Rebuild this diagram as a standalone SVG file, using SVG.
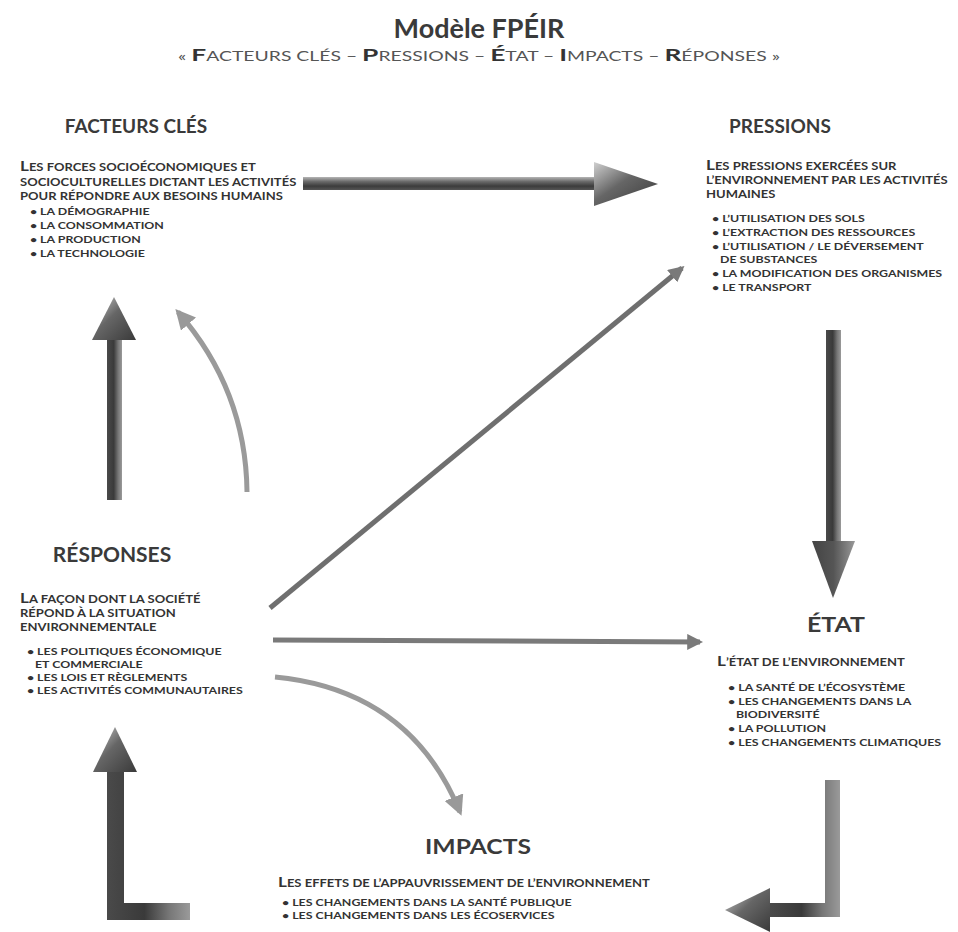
<svg xmlns="http://www.w3.org/2000/svg" width="958" height="932" viewBox="0 0 958 932">
<defs>
<style>
text{font-family:Lato,"Open Sans","Liberation Sans",sans-serif;fill:#333;font-weight:bold}
.t{font-size:27px;fill:#3a3a3a}
.sub{font-size:12.5px;font-weight:normal;fill:#555}
.subc{font-size:17px;font-weight:bold;fill:#333}
.h{font-size:19px;fill:#3a3a3a}
.h2{font-size:21px;fill:#3a3a3a}
.d{font-size:10.5px}
.dc{font-size:13.8px}
.b{font-size:10px}
.thin{fill:none;stroke-linecap:butt}
</style>
<linearGradient id="gh" x1="0" y1="0" x2="0" y2="1">
<stop offset="0" stop-color="#b5b5b5"/><stop offset="0.35" stop-color="#6a6a6a"/><stop offset="0.7" stop-color="#3c3c3c"/><stop offset="1" stop-color="#555"/>
</linearGradient>
<linearGradient id="gv" x1="0" y1="0" x2="1" y2="0">
<stop offset="0" stop-color="#4a4a4a"/><stop offset="0.45" stop-color="#3a3a3a"/><stop offset="0.75" stop-color="#777"/><stop offset="1" stop-color="#9a9a9a"/>
</linearGradient>
<linearGradient id="ghead" x1="0" y1="0" x2="1" y2="1">
<stop offset="0" stop-color="#d0d0d0"/><stop offset="0.45" stop-color="#666"/><stop offset="1" stop-color="#3a3a3a"/>
</linearGradient>
<linearGradient id="gheadv" x1="0" y1="0" x2="1" y2="0">
<stop offset="0" stop-color="#444"/><stop offset="0.5" stop-color="#555"/><stop offset="1" stop-color="#999"/>
</linearGradient>
<marker id="ma" viewBox="0 0 10 10" refX="8" refY="5" markerWidth="4" markerHeight="4" orient="auto" markerUnits="strokeWidth">
<path d="M0,0 L10,5 L0,10 z" fill="#999"/>
</marker>
<marker id="mb" viewBox="0 0 10 10" refX="8" refY="5" markerWidth="3.2" markerHeight="3.2" orient="auto" markerUnits="strokeWidth">
<path d="M0,0 L10,5 L0,10 z" fill="#7a7a7a"/>
</marker>
</defs>
<rect width="958" height="932" fill="#fff"/>

<g id="title">
<text class="t" x="479" y="38" text-anchor="middle">Modèle FPÉIR</text>
<text class="sub" x="178" y="61" textLength="602" lengthAdjust="spacingAndGlyphs">« <tspan class="subc">F</tspan>ACTEURS CLÉS  – <tspan class="subc">P</tspan>RESSIONS – <tspan class="subc">É</tspan>TAT – <tspan class="subc">I</tspan>MPACTS – <tspan class="subc">R</tspan>ÉPONSES »</text>
</g>

<g id="connectors">
<rect x="303" y="177" width="295" height="13" fill="url(#gh)"/>
<path d="M594,162 L658,184 L594,206 z" fill="url(#ghead)"/>
<rect x="826" y="330" width="15" height="212" fill="url(#gv)"/>
<path d="M812,541 L855,541 L833,598 z" fill="url(#gheadv)"/>
<rect x="107" y="335" width="15" height="165" fill="url(#gv)"/>
<path d="M114,297 L136,340 L92,340 z" fill="url(#ghead)"/>
<path d="M107,770 L124,770 L124,903 L190,903 L190,920 L107,920 z" fill="url(#gv)"/>
<path d="M115,727 L137,772 L93,772 z" fill="url(#ghead)"/>
<path d="M825,780 L840,780 L840,917 L770,917 L770,903 L825,903 z" fill="url(#gv)"/>
<path d="M770,888 L770,932 L725,910 z" fill="url(#ghead)"/>
<path class="thin" d="M247,492 Q246,390 178,312" stroke="#9a9a9a" stroke-width="5" marker-end="url(#ma)"/>
<path class="thin" d="M270,608 L682,268" stroke="#6f6f6f" stroke-width="5" marker-end="url(#mb)"/>
<path class="thin" d="M273,640 L700,642" stroke="#7a7a7a" stroke-width="5" marker-end="url(#mb)"/>
<path class="thin" d="M275,677 Q410,690 460,812" stroke="#9a9a9a" stroke-width="5" marker-end="url(#ma)"/>
</g>

<g id="facteurs">
<text class="h" x="136" y="133" text-anchor="middle">FACTEURS CLÉS</text>
<g transform="translate(20,0) scale(1.24,1)">
<text class="d" x="0" y="171"><tspan class="dc">L</tspan>ES FORCES SOCIOÉCONOMIQUES ET</text>
<text class="d" x="0" y="186">SOCIOCULTURELLES DICTANT LES ACTIVITÉS</text>
<text class="d" x="0" y="200">POUR RÉPONDRE AUX BESOINS HUMAINS</text>
<text class="b" x="8" y="215">• LA DÉMOGRAPHIE</text>
<text class="b" x="8" y="229">• LA CONSOMMATION</text>
<text class="b" x="8" y="243">• LA PRODUCTION</text>
<text class="b" x="8" y="257">• LA TECHNOLOGIE</text>
</g>
</g>

<g id="pressions">
<text class="h" x="780" y="133" text-anchor="middle">PRESSIONS</text>
<g transform="translate(706,0) scale(1.24,1)">
<text class="d" x="0" y="170"><tspan class="dc">L</tspan>ES PRESSIONS EXERCÉES SUR</text>
<text class="d" x="0" y="184">L’ENVIRONNEMENT PAR LES ACTIVITÉS</text>
<text class="d" x="0" y="198">HUMAINES</text>
<text class="b" x="4.8" y="222">• L’UTILISATION DES SOLS</text>
<text class="b" x="4.8" y="236">• L’EXTRACTION DES RESSOURCES</text>
<text class="b" x="4.8" y="250">• L’UTILISATION / LE DÉVERSEMENT</text>
<text class="b" x="11.3" y="263">DE SUBSTANCES</text>
<text class="b" x="4.8" y="277">• LA MODIFICATION DES ORGANISMES</text>
<text class="b" x="4.8" y="291">• LE TRANSPORT</text>
</g>
</g>

<g id="reponses">
<text class="h2" x="112" y="562" text-anchor="middle">RÉSPONSES</text>
<g transform="translate(20,0) scale(1.24,1)">
<text class="d" x="0" y="603"><tspan class="dc">L</tspan>A FAÇON DONT LA SOCIÉTÉ</text>
<text class="d" x="0" y="617">RÉPOND À LA SITUATION</text>
<text class="d" x="0" y="631">ENVIRONNEMENTALE</text>
<text class="b" x="5.6" y="655">• LES POLITIQUES ÉCONOMIQUE</text>
<text class="b" x="12.1" y="668">ET COMMERCIALE</text>
<text class="b" x="5.6" y="681">• LES LOIS ET RÈGLEMENTS</text>
<text class="b" x="5.6" y="694">• LES ACTIVITÉS COMMUNAUTAIRES</text>
</g>
</g>

<g id="etat">
<text class="h2" x="836" y="632" text-anchor="middle" textLength="58" lengthAdjust="spacingAndGlyphs">ÉTAT</text>
<g transform="translate(717,0) scale(1.24,1)">
<text class="d" x="0" y="666"><tspan class="dc">L</tspan>’ÉTAT DE L’ENVIRONNEMENT</text>
<text class="b" x="8.9" y="691">• LA SANTÉ DE L’ÉCOSYSTÈME</text>
<text class="b" x="8.9" y="705">• LES CHANGEMENTS DANS LA</text>
<text class="b" x="15.3" y="718">BIODIVERSITÉ</text>
<text class="b" x="8.9" y="732">• LA POLLUTION</text>
<text class="b" x="8.9" y="746">• LES CHANGEMENTS CLIMATIQUES</text>
</g>
</g>

<g id="impacts">
<text class="h2" x="478" y="854" text-anchor="middle" textLength="106" lengthAdjust="spacingAndGlyphs">IMPACTS</text>
<g transform="translate(278,0) scale(1.24,1)">
<text class="d" x="0" y="887"><tspan class="dc">L</tspan>ES EFFETS DE L’APPAUVRISSEMENT DE L’ENVIRONNEMENT</text>
<text class="b" x="3.2" y="906">• LES CHANGEMENTS DANS LA SANTÉ PUBLIQUE</text>
<text class="b" x="3.2" y="919">• LES CHANGEMENTS DANS LES ÉCOSERVICES</text>
</g>
</g>
</svg>
